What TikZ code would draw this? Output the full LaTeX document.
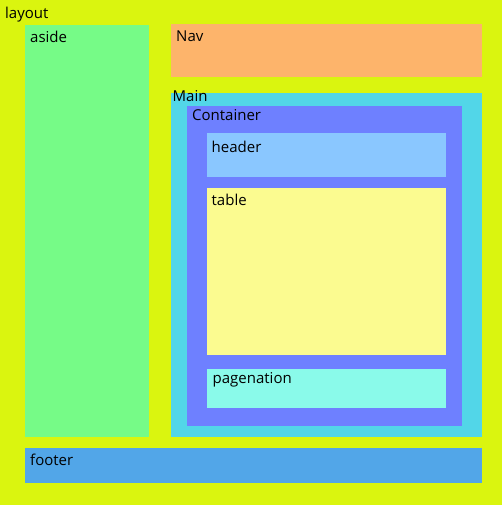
\documentclass[tikz,border=0pt]{standalone}
\usepackage{fontspec}
\setmainfont{Open Sans}
\definecolor{bgc}{HTML}{DAF50F}
\definecolor{asidec}{HTML}{76FB87}
\definecolor{navc}{HTML}{FDB46B}
\definecolor{mainc}{HTML}{52D6E8}
\definecolor{contc}{HTML}{6E80FF}
\definecolor{headc}{HTML}{8AC7FF}
\definecolor{tablec}{HTML}{FBFB90}
\definecolor{pagec}{HTML}{8AFAEA}
\definecolor{footc}{HTML}{52A6E8}
\begin{document}
\begin{tikzpicture}[x=1pt,y=-1pt,
  lbl/.style={anchor=base west,inner sep=0pt,font=\fontsize{15}{17}\selectfont,text=black}]
\useasboundingbox (0,0) rectangle (502,505);
\fill[bgc] (0,0) rectangle (502,505);
\fill[asidec] (25,25) rectangle (149,437);
\fill[navc] (171,24) rectangle (482,77.5);
\fill[mainc] (171,93) rectangle (482,437);
\fill[contc] (187,106) rectangle (462,425.5);
\fill[headc] (207,133) rectangle (446,177);
\fill[tablec] (207,188) rectangle (446,355);
\fill[pagec] (207,368.5) rectangle (446,408);
\fill[footc] (25,448) rectangle (482,483);
\node[lbl] (layout) at (5,19) {layout};
\node[lbl] (aside) at (30,43) {aside};
\node[lbl] (nav) at (176,42) {Nav};
\node[lbl] (main) at (172.5,102) {Main};
\node[lbl] (container) at (192,120.5) {Container};
\node[lbl] (header) at (211.5,152.5) {header};
\node[lbl] (table) at (211.5,205) {table};
\node[lbl] (pagenation) at (212.5,383) {pagenation};
\node[lbl] (footer) at (30,465.5) {footer};
\end{tikzpicture}
\end{document}
